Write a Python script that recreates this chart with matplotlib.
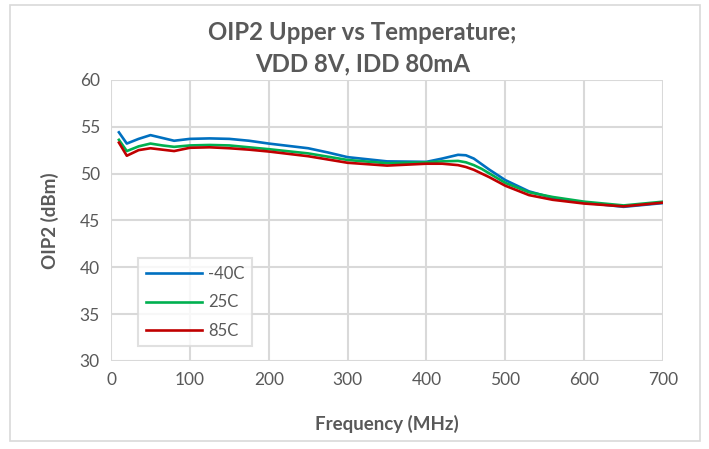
import matplotlib.pyplot as plt
from matplotlib.patches import Rectangle

# frequency points (MHz)
freq = [10, 20, 35, 50, 65, 80, 100, 125, 150, 175, 200, 250, 275, 300, 350,
        400, 420, 440, 450, 460, 470, 480, 500, 530, 560, 600, 650, 700]

# OIP2 (dBm) per temperature
oip2_m40 = [54.4, 53.2, 53.7, 54.1, 53.8, 53.5, 53.7, 53.75, 53.7, 53.5, 53.2,
            52.7, 52.25, 51.75, 51.3, 51.25, 51.6, 52.0, 51.95, 51.6, 51.0,
            50.4, 49.3, 48.1, 47.4, 46.9, 46.45, 46.85]
oip2_25 = [53.6, 52.4, 52.9, 53.2, 53.0, 52.85, 53.0, 53.05, 53.0, 52.8, 52.6,
           52.15, 51.8, 51.45, 51.1, 51.2, 51.3, 51.35, 51.2, 50.9, 50.5,
           50.0, 49.0, 48.0, 47.5, 47.0, 46.6, 47.0]
oip2_85 = [53.3, 51.9, 52.5, 52.7, 52.55, 52.4, 52.75, 52.8, 52.7, 52.55, 52.35,
           51.85, 51.5, 51.15, 50.85, 51.05, 51.05, 50.9, 50.7, 50.4, 50.0,
           49.6, 48.7, 47.7, 47.2, 46.8, 46.5, 46.9]

labels = ['-40C', '25C', '85C']
colors = ['#0070C0', '#00B050', '#C00000']

plt.rcParams['font.family'] = ['Lato', 'DejaVu Sans']
txt = '#595959'

fig = plt.figure(figsize=(7.09, 4.49), dpi=100)
ax = fig.add_axes([0.1566, 0.196, 0.7786, 0.6262])

for ys, lab, c in zip([oip2_m40, oip2_25, oip2_85], labels, colors):
    ax.plot(freq, ys, color=c, lw=1.9, label=lab, solid_joinstyle='round')

ax.set_xlim(0, 700)
ax.set_ylim(30, 60)
ax.set_xticks(range(0, 701, 100))
ax.set_yticks(range(30, 61, 5))
ax.grid(True, color='#d9d9d9', lw=1.5)
ax.set_axisbelow(True)
for s in ax.spines.values():
    s.set_visible(False)
ax.tick_params(length=0, labelsize=12.5, labelcolor=txt, pad=8)

ax.set_xlabel('Frequency (MHz)', fontsize=13.5, fontweight='bold', color=txt, labelpad=19)
ax.set_ylabel('OIP2 (dBm)', fontsize=13.5, fontweight='bold', color=txt, labelpad=15)

fig.text(0.511, 0.892, 'OIP2 Upper vs Temperature;\nVDD 8V, IDD 80mA',
         ha='center', va='center', fontsize=17.3, fontweight='bold', color=txt,
         linespacing=1.45)

leg = ax.legend(loc='lower left', bbox_to_anchor=(0.049, 0.052), fontsize=12,
                frameon=True, fancybox=False, edgecolor='#d9d9d9',
                handlelength=3.4, handletextpad=0.35, labelspacing=0.75,
                borderpad=0.45, borderaxespad=0)
leg.get_frame().set_linewidth(1.5)
for t in leg.get_texts():
    t.set_color(txt)

fig.patches.append(Rectangle((10 / 709, 1 - 441 / 449), 690 / 709, 436 / 449,
                             transform=fig.transFigure, fill=False,
                             edgecolor='#d9d9d9', lw=1.2))

fig.savefig('out.png', dpi=100)
